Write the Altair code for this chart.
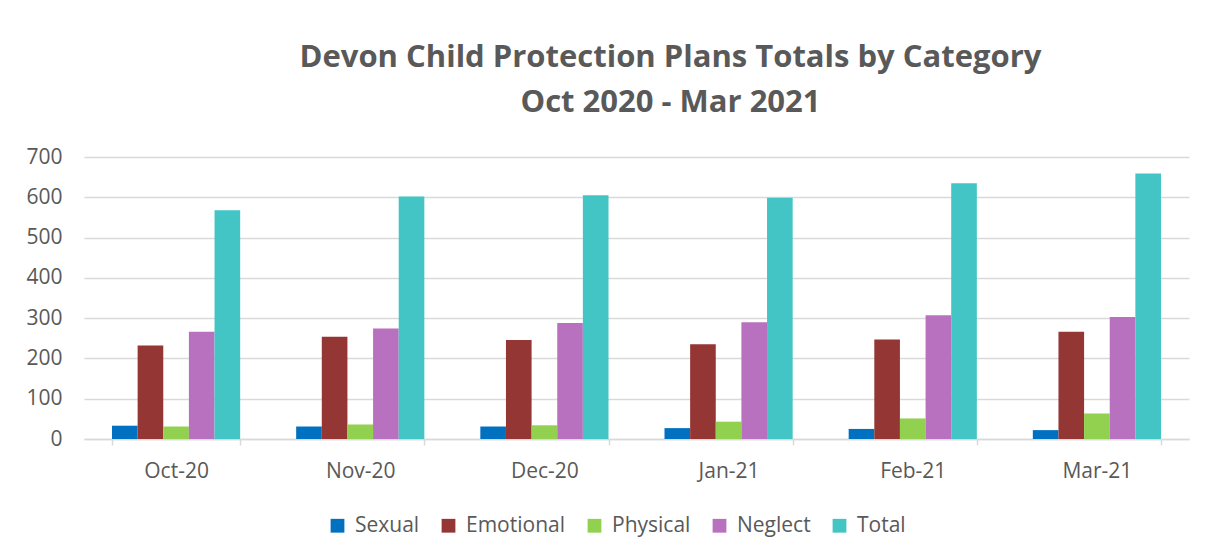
import altair as alt
import pandas as pd

# Monthly counts of child protection plans by category
months = ["Oct-20", "Nov-20", "Dec-20", "Jan-21", "Feb-21", "Mar-21"]
categories = ["Sexual", "Emotional", "Physical", "Neglect", "Total"]
sexual = [33, 31, 31, 27, 25, 22]
emotional = [232, 254, 246, 235, 247, 266]
physical = [31, 36, 34, 43, 51, 63]
neglect = [266, 274, 288, 290, 307, 303]
total = [568, 602, 605, 599, 635, 659]
y_ticks = [0, 100, 200, 300, 400, 500, 600, 700]

colors = ["#0070C0", "#943634", "#92D050", "#B871BE", "#43C5C5"]
text_grey = "#595959"
line_grey = "#D9D9D9"
font = "Open Sans"

series = dict(zip(categories, [sexual, emotional, physical, neglect, total]))
rows = [
    {"month": m, "category": c, "value": series[c][i]}
    for i, m in enumerate(months)
    for c in categories
]
df = pd.DataFrame(rows)

chart = (
    alt.Chart(df)
    .mark_bar()
    .encode(
        x=alt.X(
            "month:N",
            sort=months,
            title=None,
            scale=alt.Scale(paddingInner=0.304, paddingOuter=0.152),
            axis=alt.Axis(
                labelAngle=0,
                labelFont=font,
                labelFontSize=21,
                labelColor=text_grey,
                labelPadding=15,
                tickBand="extent",
                tickSize=6,
                tickColor=line_grey,
                tickWidth=1.5,
                domainColor=line_grey,
                domainWidth=1.5,
                grid=False,
            ),
        ),
        xOffset=alt.XOffset("category:N", sort=categories, scale=alt.Scale(paddingInner=0, paddingOuter=0)),
        y=alt.Y(
            "value:Q",
            title=None,
            scale=alt.Scale(domain=[0, 700], nice=False),
            axis=alt.Axis(
                values=y_ticks,
                labelFont=font,
                labelFontSize=21,
                labelColor=text_grey,
                labelPadding=22,
                ticks=False,
                domain=False,
                gridColor=line_grey,
                gridWidth=1.5,
            ),
        ),
        color=alt.Color(
            "category:N",
            sort=categories,
            scale=alt.Scale(domain=categories, range=colors),
            legend=alt.Legend(
                title=None,
                orient="none",
                direction="horizontal",
                legendX=243,
                legendY=358,
                symbolType="square",
                symbolSize=190,
                symbolStrokeWidth=0,
                labelFont=font,
                labelFontSize=21,
                labelColor=text_grey,
                labelOffset=7,
                columnPadding=18,
                labelLimit=300,
            ),
        ),
    )
    .properties(
        width=1105,
        height=282,
        title=alt.TitleParams(
            text=["Devon Child Protection Plans Totals by Category", "Oct 2020 - Mar 2021"],
            font=font,
            fontSize=31,
            fontWeight="bold",
            color=text_grey,
            lineHeight=45,
            anchor="middle",
            dx=34,
            offset=27,
        ),
    )
    .configure(padding={"left": 25, "top": 42, "right": 20, "bottom": 5})
    .configure_view(stroke=None)
)

chart.save("out.html", embed_options={"renderer": "svg", "actions": False})
